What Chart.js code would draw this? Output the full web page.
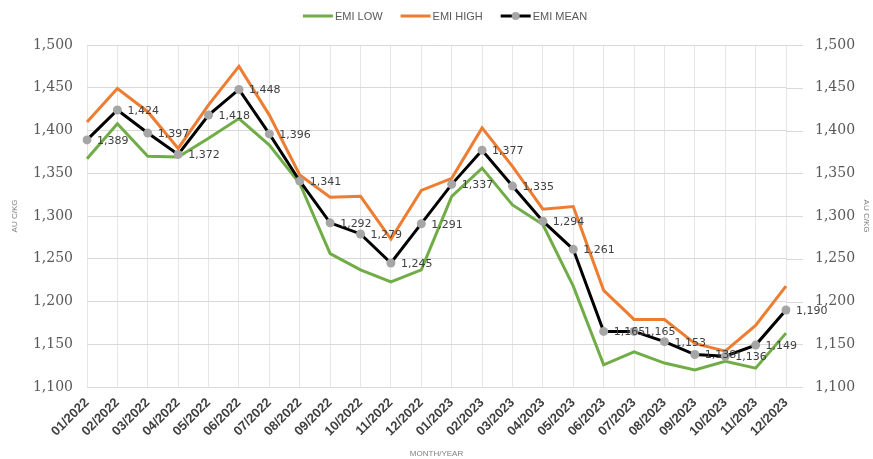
<!DOCTYPE html>
<html>
<head>
<meta charset="utf-8">
<script src="https://cdn.jsdelivr.net/npm/chart.js@4/dist/chart.umd.min.js"></script>
<style>
html, body { margin: 0; padding: 0; background: #fff; }
#wrap { width: 873px; height: 459px; position: relative; }
</style>
</head>
<body>
<div id="wrap"><canvas id="chart"></canvas></div>
<script>
var months = ["01/2022", "02/2022", "03/2022", "04/2022", "05/2022", "06/2022",
    "07/2022", "08/2022", "09/2022", "10/2022", "11/2022", "12/2022",
    "01/2023", "02/2023", "03/2023", "04/2023", "05/2023", "06/2023",
    "07/2023", "08/2023", "09/2023", "10/2023", "11/2023", "12/2023"];

var emiLow = [1367, 1408, 1370, 1369, 1391, 1414, 1383, 1338, 1256, 1237, 1223, 1237,
    1323, 1356, 1313, 1290, 1218, 1126, 1141, 1128, 1120, 1130, 1122, 1163];
var emiHigh = [1410, 1449, 1422, 1379, 1430, 1475, 1418, 1348, 1322, 1323, 1273, 1330,
    1344, 1403, 1358, 1308, 1311, 1213, 1179, 1179, 1151, 1142, 1172, 1218];
var emiMean = [1389, 1424, 1397, 1372, 1418, 1448, 1396, 1341, 1292, 1279, 1245, 1291,
    1337, 1377, 1335, 1294, 1261, 1165, 1165, 1153, 1138, 1136, 1149, 1190];

var seriesNames = ["EMI LOW", "EMI HIGH", "EMI MEAN"];
var yMin = 1100;
var yMax = 1500;
var yStep = 50;

var green = "#70ad47";
var orange = "#ed7d31";
var black = "#000000";
var markerGray = "#a6a6a6";

function fmt(v) {
    return Number(v).toLocaleString("en-US");
}

// labels on the mean line, gridline stubs, hand drawn legend
var extras = {
    id: "extras",
    beforeDatasetsDraw: function (chart) {
        let ctx = chart.ctx;
        let area = chart.chartArea;
        let y = chart.scales.y;
        ctx.save();
        ctx.strokeStyle = "#d9d9d9";
        ctx.lineWidth = 1;
        y.ticks.forEach(function (t) {
            let py = Math.round(y.getPixelForValue(t.value)) + 0.5;
            ctx.beginPath();
            ctx.moveTo(area.right, py);
            ctx.lineTo(area.right + 17, py);
            ctx.stroke();
        });
        ctx.restore();
    },
    afterDatasetsDraw: function (chart) {
        let ctx = chart.ctx;
        let meta = chart.getDatasetMeta(2);
        ctx.save();
        ctx.font = '11px "DejaVu Sans"';
        ctx.fillStyle = "#404040";
        ctx.textAlign = "left";
        ctx.textBaseline = "middle";
        meta.data.forEach(function (pt, i) {
            ctx.fillText(fmt(emiMean[i]), pt.x + 10, pt.y + 1);
        });
        ctx.restore();
    },
    afterDraw: function (chart) {
        let ctx = chart.ctx;
        let colors = [green, orange, black];
        ctx.save();
        ctx.font = '11px "Liberation Sans"';
        ctx.textBaseline = "middle";
        ctx.textAlign = "left";
        let lineLen = 30, gap = 2, spacing = 18;
        let total = 0;
        seriesNames.forEach(function (n, i) {
            total += lineLen + gap + ctx.measureText(n).width + (i < seriesNames.length - 1 ? spacing : 0);
        });
        let x = 445 - total / 2;
        let y = 16;
        seriesNames.forEach(function (n, i) {
            ctx.strokeStyle = colors[i];
            ctx.lineWidth = 3;
            ctx.beginPath();
            ctx.moveTo(x, y);
            ctx.lineTo(x + lineLen, y);
            ctx.stroke();
            if (i === 2) {
                ctx.fillStyle = markerGray;
                ctx.beginPath();
                ctx.arc(x + lineLen / 2, y, 4, 0, Math.PI * 2);
                ctx.fill();
            }
            ctx.fillStyle = "#595959";
            ctx.fillText(n, x + lineLen + gap, y + 1);
            x += lineLen + gap + ctx.measureText(n).width + spacing;
        });
        ctx.restore();
    }
};

const chart = new Chart(document.getElementById("chart"), {
    type: "line",
    data: {
        labels: months,
        datasets: [{
            label: seriesNames[0],
            data: emiLow,
            borderColor: green,
            backgroundColor: green,
            borderWidth: 3,
            pointRadius: 0,
            order: 2
        }, {
            label: seriesNames[1],
            data: emiHigh,
            borderColor: orange,
            backgroundColor: orange,
            borderWidth: 3,
            pointRadius: 0,
            order: 1
        }, {
            label: seriesNames[2],
            data: emiMean,
            borderColor: black,
            backgroundColor: markerGray,
            borderWidth: 3,
            pointRadius: 4.5,
            pointBackgroundColor: markerGray,
            pointBorderColor: markerGray,
            pointBorderWidth: 0,
            order: 0
        }]
    },
    options: {
        responsive: true,
        maintainAspectRatio: false,
        devicePixelRatio: 1,
        animation: false,
        layout: { padding: { top: 45, left: 0, right: 0, bottom: 0 } },
        elements: { line: { tension: 0 } },
        plugins: {
            legend: { display: false },
            tooltip: { enabled: false }
        },
        scales: {
            x: {
                grid: { color: "#e6e6e6", drawTicks: false },
                border: { display: false },
                ticks: {
                    autoSkip: false,
                    minRotation: 45,
                    maxRotation: 45,
                    padding: 8,
                    color: "#404040",
                    font: { family: "Liberation Sans", size: 13, weight: "bold" }
                },
                title: {
                    display: true,
                    text: "MONTH/YEAR",
                    color: "#7f7f7f",
                    font: { family: "Liberation Sans", size: 8 },
                    padding: { top: 0, bottom: 0 }
                },
                afterFit: function (s) { s.height = 72; }
            },
            y: {
                position: "left",
                min: yMin,
                max: yMax,
                grid: { color: "#d9d9d9", drawTicks: false },
                border: { display: false },
                ticks: {
                    stepSize: yStep,
                    padding: 14,
                    color: "#595959",
                    font: { family: "DejaVu Serif", size: 14 },
                    callback: function (v) { return fmt(v); }
                },
                title: {
                    display: true,
                    text: "AU C/KG",
                    color: "#7f7f7f",
                    font: { family: "Liberation Sans", size: 8 },
                    padding: { top: 10, bottom: 0 }
                },
                afterFit: function (s) { s.width = 87; }
            },
            y2: {
                position: "right",
                min: yMin,
                max: yMax,
                grid: { drawOnChartArea: false, drawTicks: false },
                border: { display: false },
                ticks: {
                    stepSize: yStep,
                    padding: 29,
                    color: "#595959",
                    font: { family: "DejaVu Serif", size: 14 },
                    callback: function (v) { return fmt(v); }
                },
                title: {
                    display: true,
                    text: "AU C/KG",
                    color: "#7f7f7f",
                    font: { family: "Liberation Sans", size: 8 },
                    padding: { top: 2, bottom: 0 }
                },
                afterFit: function (s) { s.width = 87; }
            }
        }
    },
    plugins: [extras]
});
</script>
</body>
</html>
